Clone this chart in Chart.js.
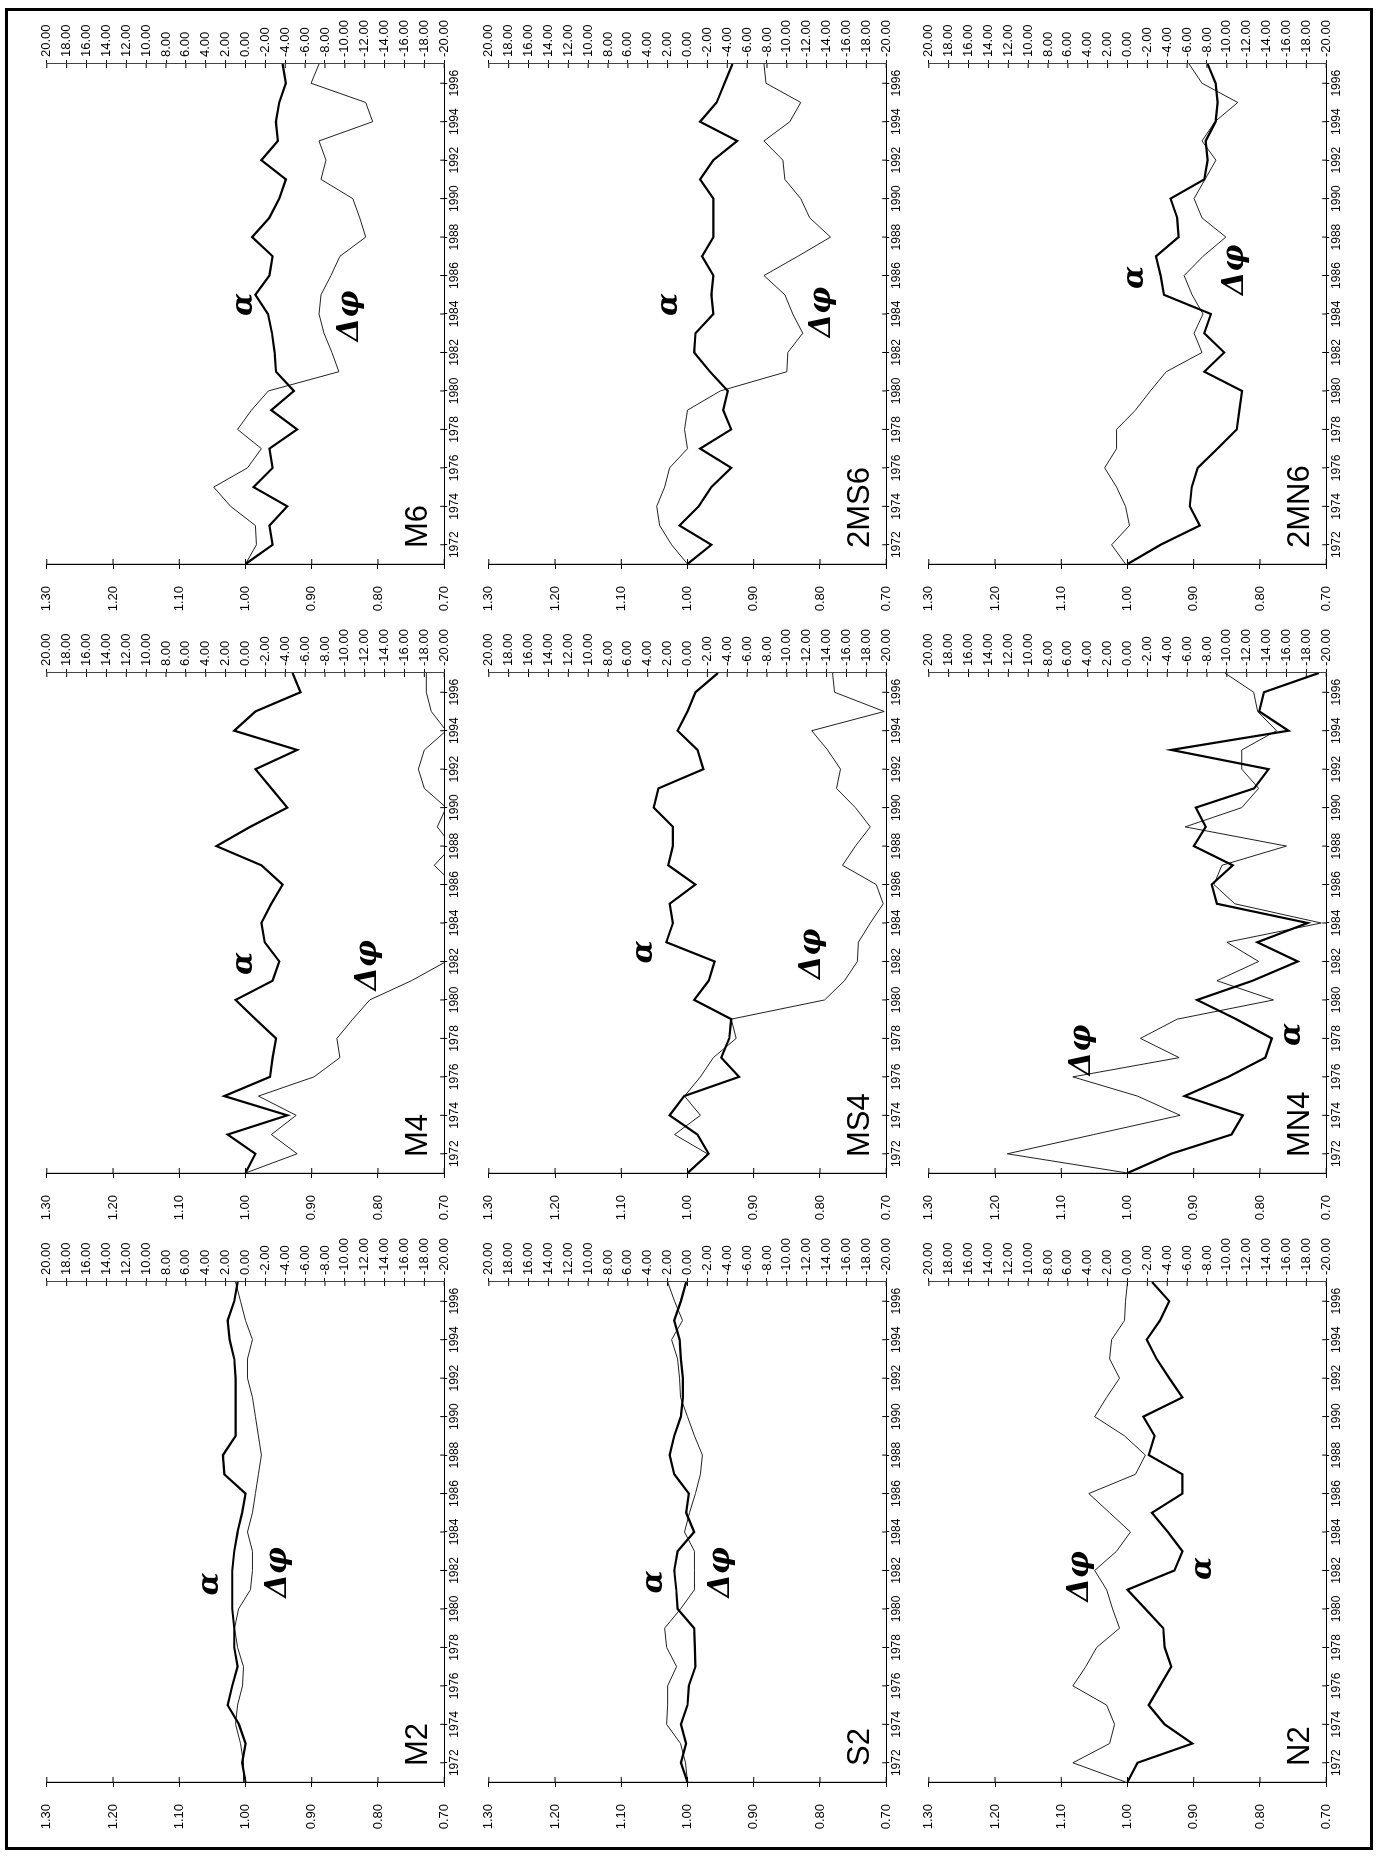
<!DOCTYPE html>
<html>
<head>
<meta charset="utf-8">
<script src="https://cdn.jsdelivr.net/npm/chart.js@4.4.1/dist/chart.umd.min.js"></script>
<style>
  html, body { margin: 0; padding: 0; background: #fff; }
  body { width: 1376px; height: 1858px; overflow: hidden; position: relative; }
  #frame { position: absolute; left: 5px; top: 8px; width: 1362px; height: 1836px; border: 3px solid #000; }
  /* the scanned page is turned a quarter turn, so the charts are drawn upright and the whole sheet is rotated */
  #page { position: absolute; left: 0; top: 0; width: 1858px; height: 1376px;
          transform-origin: 0 0; transform: translate(0, 1858px) rotate(-90deg); }
  #page canvas { position: absolute; }
</style>
</head>
<body>
<div id="frame"></div>
<div id="page"></div>
<script>
const years = [1971, 1972, 1973, 1974, 1975, 1976, 1977, 1978, 1979, 1980, 1981, 1982, 1983, 1984,
               1985, 1986, 1987, 1988, 1989, 1990, 1991, 1992, 1993, 1994, 1995, 1996, 1997];
const yearTicks = [1972, 1974, 1976, 1978, 1980, 1982, 1984, 1986, 1988, 1990, 1992, 1994, 1996];
const alphaTicks = [0.7, 0.8, 0.9, 1.0, 1.1, 1.2, 1.3];
const phaseTicks = [-20, -18, -16, -14, -12, -10, -8, -6, -4, -2, 0, 2, 4, 6, 8, 10, 12, 14, 16, 18, 20];

// amplitude ratio (alpha) and phase difference (dphi) per constituent
const m2Alpha = [1.000, 1.005, 1.000, 1.010, 1.027, 1.020, 1.012, 1.017, 1.017, 1.020, 1.020, 1.020, 1.017, 1.012,
                 1.005, 1.000, 1.032, 1.034, 1.015, 1.015, 1.015, 1.015, 1.017, 1.024, 1.027, 1.017, 1.012];
const m2Phase = [0.2, 0.2, 0.5, 1.0, 0.8, 0.3, 0.2, 0.8, 1.1, 0.7, -0.5, -0.7, -0.7, -0.2,
                 -0.7, -1.0, -1.3, -1.6, -1.3, -1.0, -0.7, -0.2, -0.2, -0.7, 0.0, 0.5, 1.0];
const s2Alpha = [1.000, 1.010, 1.002, 1.010, 1.000, 0.998, 0.988, 0.989, 0.990, 1.015, 1.017, 1.020, 1.015, 0.990,
                 1.002, 0.998, 1.020, 1.027, 1.020, 1.010, 1.007, 1.007, 1.010, 1.012, 1.020, 1.010, 1.002];
const s2Phase = [0.0, 0.2, 0.7, 2.1, 2.0, 2.0, 1.1, 2.1, 2.3, 0.7, -0.7, -0.7, -0.7, 0.3,
                 -0.2, -0.8, -1.3, -1.5, -0.7, 0.0, 0.7, 0.8, 1.0, 1.6, 0.5, 1.3, 2.0];
const n2Alpha = [1.000, 0.985, 0.902, 0.944, 0.968, 0.951, 0.934, 0.944, 0.946, 0.973, 1.000, 0.929, 0.917, 0.939,
                 0.963, 0.917, 0.917, 0.968, 0.959, 0.976, 0.917, 0.937, 0.956, 0.971, 0.951, 0.937, 0.963];
const n2Phase = [0.2, 5.5, 1.8, 1.3, 2.1, 5.5, 4.2, 3.1, 0.8, 1.5, 2.1, 3.3, 1.1, -0.3,
                 1.8, 3.9, -0.8, -1.8, 0.3, 3.3, 2.1, 0.8, 1.8, 1.6, 0.3, 0.2, 0.0];
const m4Alpha = [1.000, 0.985, 1.027, 0.937, 1.032, 0.963, 0.959, 0.954, 0.985, 1.015, 0.959, 0.949, 0.971, 0.976,
                 0.961, 0.944, 0.976, 1.044, 0.993, 0.937, 0.961, 0.985, 0.922, 1.017, 0.985, 0.917, 0.929];
const m4Phase = [0.0, -5.2, -2.6, -5.1, -1.3, -6.9, -9.5, -9.2, -10.8, -12.5, -16.7, -20.2, -23.0, -24.0,
                 -23.0, -21.0, -19.0, -20.8, -19.3, -20.2, -18.0, -17.4, -18.0, -20.2, -18.7, -18.2, -18.2];
const ms4Alpha = [1.000, 0.968, 0.985, 1.027, 1.005, 0.922, 0.949, 0.937, 0.934, 0.990, 0.968, 0.959, 1.032, 1.022,
                  1.027, 0.988, 1.029, 1.022, 1.022, 1.051, 1.044, 0.976, 0.985, 1.015, 1.000, 0.988, 0.954];
const ms4Phase = [0.0, -2.0, 1.3, -1.3, 0.3, -1.3, -2.6, -4.9, -4.4, -13.8, -15.8, -17.1, -17.2, -18.4,
                  -19.7, -19.0, -15.6, -16.9, -18.4, -16.9, -15.0, -15.4, -14.1, -12.5, -19.8, -14.8, -14.6];
const mn4Alpha = [1.000, 0.934, 0.843, 0.826, 0.914, 0.848, 0.792, 0.782, 0.836, 0.895, 0.811, 0.743, 0.804, 0.728,
                  0.865, 0.873, 0.841, 0.900, 0.882, 0.897, 0.809, 0.787, 0.934, 0.757, 0.801, 0.794, 0.711];
const mn4Phase = [0.0, 12.1, 3.4, -5.3, -1.0, 5.5, -5.2, -1.3, -5.0, -14.7, -9.0, -13.2, -10.0, -19.5,
                  -10.8, -8.7, -9.5, -16.0, -5.8, -11.5, -13.2, -11.5, -11.5, -15.0, -13.1, -12.7, -9.8];
const m6Alpha = [1.000, 0.959, 0.964, 0.937, 0.988, 0.959, 0.964, 0.922, 0.961, 0.927, 0.954, 0.956, 0.960, 0.966,
                 0.985, 0.964, 0.959, 0.990, 0.964, 0.949, 0.939, 0.976, 0.951, 0.954, 0.949, 0.939, 0.944];
const m6Phase = [0.0, -1.1, -1.0, 1.5, 3.2, -0.2, -1.6, 0.8, -0.6, -2.3, -9.4, -8.7, -7.9, -7.4,
                 -7.6, -8.6, -9.5, -12.1, -11.5, -10.8, -7.6, -8.1, -7.4, -12.8, -12.1, -6.6, -7.4];
const ms6Alpha = [1.000, 0.964, 1.012, 0.983, 0.964, 0.934, 0.981, 0.934, 0.946, 0.939, 0.966, 0.990, 0.988, 0.961,
                  0.964, 0.961, 0.978, 0.961, 0.961, 0.961, 0.981, 0.961, 0.925, 0.981, 0.956, 0.944, 0.932];
const ms6Phase = [0.0, 1.6, 2.8, 3.1, 2.3, 1.8, 0.0, 0.3, 0.0, -3.3, -10.0, -10.1, -11.6, -10.6,
                  -9.8, -7.7, -11.1, -14.4, -12.3, -11.4, -9.8, -9.6, -7.7, -10.3, -11.4, -7.9, -7.7];
const mn6Alpha = [1.000, 0.950, 0.891, 0.906, 0.903, 0.894, 0.864, 0.835, 0.831, 0.827, 0.884, 0.854, 0.884, 0.874,
                  0.945, 0.950, 0.957, 0.923, 0.925, 0.935, 0.884, 0.879, 0.882, 0.867, 0.864, 0.867, 0.879];
const mn6Phase = [0.2, 1.6, -0.2, 0.2, 1.1, 2.3, 1.1, 1.1, -0.8, -2.3, -3.9, -7.5, -6.7, -7.6,
                  -6.5, -5.7, -7.6, -9.9, -7.5, -6.7, -7.8, -8.9, -7.5, -8.8, -11.1, -7.5, -6.2];

// handwritten marks on the sheet, placed at (year, alpha-axis value)
const notes = {
  M2:   [{ t: 'α', year: 1981.3, at: 1.054 }, { t: 'Δφ', year: 1981.9, at: 0.951 }],
  S2:   [{ t: 'α', year: 1981.4, at: 1.051 }, { t: 'Δφ', year: 1981.9, at: 0.949 }],
  N2:   [{ t: 'Δφ', year: 1981.7, at: 1.071 }, { t: 'α', year: 1982.1, at: 0.885 }],
  M4:   [{ t: 'α', year: 1981.9, at: 1.002 }, { t: 'Δφ', year: 1981.8, at: 0.815 }],
  MS4:  [{ t: 'α', year: 1982.5, at: 1.066 }, { t: 'Δφ', year: 1982.4, at: 0.812 }],
  MN4:  [{ t: 'Δφ', year: 1977.4, at: 1.069 }, { t: 'α', year: 1978.2, at: 0.752 }],
  M6:   [{ t: 'α', year: 1984.5, at: 1.002 }, { t: 'Δφ', year: 1983.9, at: 0.842 }],
  '2MS6': [{ t: 'α', year: 1984.5, at: 1.027 }, { t: 'Δφ', year: 1984.1, at: 0.796 }],
  '2MN6': [{ t: 'α', year: 1985.9, at: 0.989 }, { t: 'Δφ', year: 1986.3, at: 0.837 }]
};

// panel grid on the upright sheet: columns left->right, rows top->bottom
const colLeft = [76, 685, 1294];
const rowTop = [34, 476, 916];
const panels = [
  { name: 'M2', col: 0, row: 0, alpha: m2Alpha, phase: m2Phase },
  { name: 'M4', col: 1, row: 0, alpha: m4Alpha, phase: m4Phase },
  { name: 'M6', col: 2, row: 0, alpha: m6Alpha, phase: m6Phase },
  { name: 'S2', col: 0, row: 1, alpha: s2Alpha, phase: s2Phase },
  { name: 'MS4', col: 1, row: 1, alpha: ms4Alpha, phase: ms4Phase },
  { name: '2MS6', col: 2, row: 1, alpha: ms6Alpha, phase: ms6Phase },
  { name: 'N2', col: 0, row: 2, alpha: n2Alpha, phase: n2Phase },
  { name: 'MN4', col: 1, row: 2, alpha: mn4Alpha, phase: mn4Phase },
  { name: '2MN6', col: 2, row: 2, alpha: mn6Alpha, phase: mn6Phase }
];

const FONT = '"Liberation Sans", Arial, sans-serif';
const PAD_L = 60, PAD_R = 56, PAD_T = 12, PAD_B = 24;

// small tick marks on the inner side of every axis (the scan shows crossing ticks)
const crossTicks = {
  id: 'crossTicks',
  afterDraw(chart) {
    const ctx = chart.ctx, a = chart.chartArea, s = chart.scales;
    ctx.save();
    ctx.strokeStyle = '#000';
    ctx.lineWidth = 1;
    ctx.beginPath();
    s.x.ticks.forEach(t => { const p = s.x.getPixelForValue(t.value); ctx.moveTo(p, a.bottom); ctx.lineTo(p, a.bottom - 4); });
    s.yA.ticks.forEach(t => { const p = s.yA.getPixelForValue(t.value); ctx.moveTo(a.left, p); ctx.lineTo(a.left + 5, p); });
    s.yP.ticks.forEach(t => { const p = s.yP.getPixelForValue(t.value); ctx.moveTo(a.right, p); ctx.lineTo(a.right - 4, p); });
    ctx.stroke();
    ctx.restore();
  }
};

function titlePlugin(text) {
  return {
    id: 'panelTitle',
    afterDraw(chart) {
      const a = chart.chartArea, ctx = chart.ctx;
      ctx.save();
      ctx.font = '31px ' + FONT;
      ctx.fillStyle = '#000';
      ctx.textBaseline = 'alphabetic';
      ctx.fillText(text, a.left + 16, a.bottom - 17);
      ctx.restore();
    }
  };
}

function notesPlugin(items) {
  return {
    id: 'handNotes',
    afterDatasetsDraw(chart) {
      const ctx = chart.ctx, x = chart.scales.x, y = chart.scales.yA;
      ctx.save();
      ctx.fillStyle = '#000';
      ctx.textAlign = 'center';
      ctx.textBaseline = 'middle';
      ctx.font = 'italic bold 30px "DejaVu Serif", serif';
      items.forEach(n => ctx.fillText(n.t, x.getPixelForValue(n.year), y.getPixelForValue(n.at)));
      ctx.restore();
    }
  };
}

function axisGrid(len) {
  return { display: true, drawOnChartArea: false, drawTicks: true, tickLength: len, color: '#000', lineWidth: 1 };
}

function makePanel(p) {
  const canvas = document.createElement('canvas');
  const w = 500 + PAD_L + PAD_R, h = 411 + PAD_T + PAD_B;
  canvas.width = w; canvas.height = h;
  canvas.style.width = w + 'px'; canvas.style.height = h + 'px';
  canvas.style.left = (colLeft[p.col] - PAD_L) + 'px';
  canvas.style.top = (rowTop[p.row] - PAD_T) + 'px';
  document.getElementById('page').appendChild(canvas);

  new Chart(canvas, {
    type: 'line',
    data: {
      datasets: [
        {
          label: 'α',
          data: years.map((yr, i) => ({ x: yr, y: p.alpha[i] })),
          yAxisID: 'yA',
          borderColor: '#000',
          borderWidth: 2.2,
          pointRadius: 0,
          tension: 0
        },
        {
          label: 'Δφ',
          data: years.map((yr, i) => ({ x: yr, y: p.phase[i] })),
          yAxisID: 'yP',
          borderColor: '#222',
          borderWidth: 1,
          pointRadius: 0,
          tension: 0
        }
      ]
    },
    plugins: [crossTicks, titlePlugin(p.name), notesPlugin(notes[p.name])],
    options: {
      responsive: false,
      maintainAspectRatio: false,
      animation: false,
      devicePixelRatio: 1,
      layout: { padding: { top: PAD_T, left: 0, right: 0, bottom: 0 } },
      plugins: { legend: { display: false }, tooltip: { enabled: false } },
      scales: {
        x: {
          type: 'linear',
          position: 'bottom',
          min: 1971,
          max: 1997,
          afterBuildTicks: s => { s.ticks = yearTicks.map(v => ({ value: v })); },
          afterFit: s => { s.height = PAD_B; },
          grid: axisGrid(3),
          border: { display: true, color: '#000', width: 1 },
          ticks: { autoSkip: false, maxRotation: 0, padding: 0, color: '#000',
                   font: { family: FONT, size: 12 }, callback: v => String(v) }
        },
        yA: {
          type: 'linear',
          position: 'left',
          min: 0.7,
          max: 1.3,
          afterBuildTicks: s => { s.ticks = alphaTicks.map(v => ({ value: v })); },
          afterFit: s => { s.width = PAD_L; },
          grid: axisGrid(5),
          border: { display: true, color: '#000', width: 1.2 },
          ticks: { autoSkip: false, padding: 17, color: '#000',
                   font: { family: FONT, size: 13 }, callback: v => v.toFixed(2) }
        },
        yP: {
          type: 'linear',
          position: 'right',
          min: -20,
          max: 20,
          afterBuildTicks: s => { s.ticks = phaseTicks.map(v => ({ value: v })); },
          afterFit: s => { s.width = PAD_R; },
          grid: axisGrid(4),
          border: { display: true, color: '#444', width: 1, dash: [6, 3, 1, 3] },
          ticks: { autoSkip: false, padding: 3, color: '#000',
                   font: { family: FONT, size: 13 }, callback: v => v.toFixed(2) }
        }
      }
    }
  });
}

panels.forEach(makePanel);
</script>
</body>
</html>
